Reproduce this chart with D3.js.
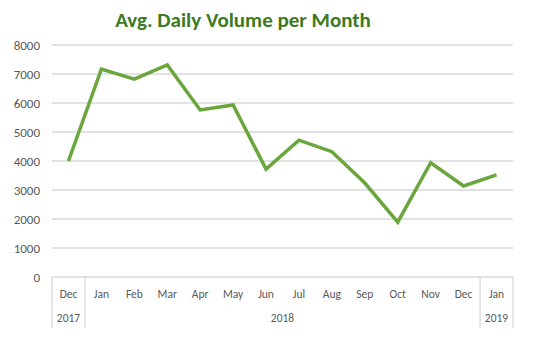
<!DOCTYPE html>
<html><head><meta charset="utf-8">
<script src="https://cdn.jsdelivr.net/npm/d3@7"></script>
<style>body{margin:0;background:#fff}svg{display:block}</style>
</head><body><div id="chart"></div>
<script>
const months = ["Dec","Jan","Feb","Mar","Apr","May","Jun","Jul","Aug","Sep","Oct","Nov","Dec","Jan"];
const years = [{label:"2017", start:0, end:0},{label:"2018", start:1, end:12},{label:"2019", start:13, end:13}];
const values = [4000,7170,6820,7310,5760,5930,3720,4720,4320,3240,1890,3940,3140,3520];
const yTicks = [0,1000,2000,3000,4000,5000,6000,7000,8000];
const title = "Avg. Daily Volume per Month";

(function(){
const W=540,H=356, mL=52, mR=513, mT=45, mB=277;
const svg=d3.select("#chart").append("svg").attr("width",W).attr("height",H);
const font="Calibri, Carlito, 'Liberation Sans', Arial, sans-serif";
const idx=d3.range(months.length);
const x=d3.scaleBand().domain(idx).range([mL,mR]).padding(0);
const y=d3.scaleLinear().domain([0,8000]).range([mB,mT]);

svg.append("g").selectAll("line").data(yTicks).join("line")
 .attr("x1",mL).attr("x2",mR).attr("y1",d=>y(d)).attr("y2",d=>y(d))
 .attr("stroke","#d9d9d9").attr("stroke-width",1.3);
svg.append("g").selectAll("text").data(yTicks).join("text")
 .attr("x",40).attr("y",d=>y(d)).attr("dy","0.35em").attr("text-anchor","end")
 .attr("font-family",font).attr("font-size",13).attr("fill","#595959").text(d=>d);

const bounds=[];
years.forEach(yr=>{bounds.push(x(yr.start));});
bounds.push(x(years[years.length-1].end)+x.bandwidth());
svg.append("g").selectAll("line").data(bounds).join("line")
 .attr("x1",d=>d).attr("x2",d=>d).attr("y1",mB).attr("y2",328)
 .attr("stroke","#d9d9d9").attr("stroke-width",1.3);
svg.append("g").selectAll("text").data(idx).join("text")
 .attr("x",i=>x(i)+x.bandwidth()/2).attr("y",294).attr("dy","0.35em").attr("text-anchor","middle")
 .attr("font-family",font).attr("font-size",11.5).attr("fill","#595959").text(i=>months[i]);
svg.append("g").selectAll("text").data(years).join("text")
 .attr("x",d=>(x(d.start)+x(d.end)+x.bandwidth())/2).attr("y",318).attr("dy","0.35em").attr("text-anchor","middle")
 .attr("font-family",font).attr("font-size",11.5).attr("fill","#595959").text(d=>d.label);

const line=d3.line().x((d,i)=>x(i)+x.bandwidth()/2).y(d=>y(d)).curve(d3.curveLinear);
svg.append("path").datum(values).attr("d",line).attr("fill","none")
 .attr("stroke","#6aa63c").attr("stroke-width",3.5).attr("stroke-linejoin","miter");

svg.append("text").attr("x",243).attr("y",20).attr("dy","0.35em").attr("text-anchor","middle")
 .attr("font-family",font).attr("font-weight","bold").attr("font-size",21).attr("fill","#3d7a22").text(title);
})();
</script></body></html>
